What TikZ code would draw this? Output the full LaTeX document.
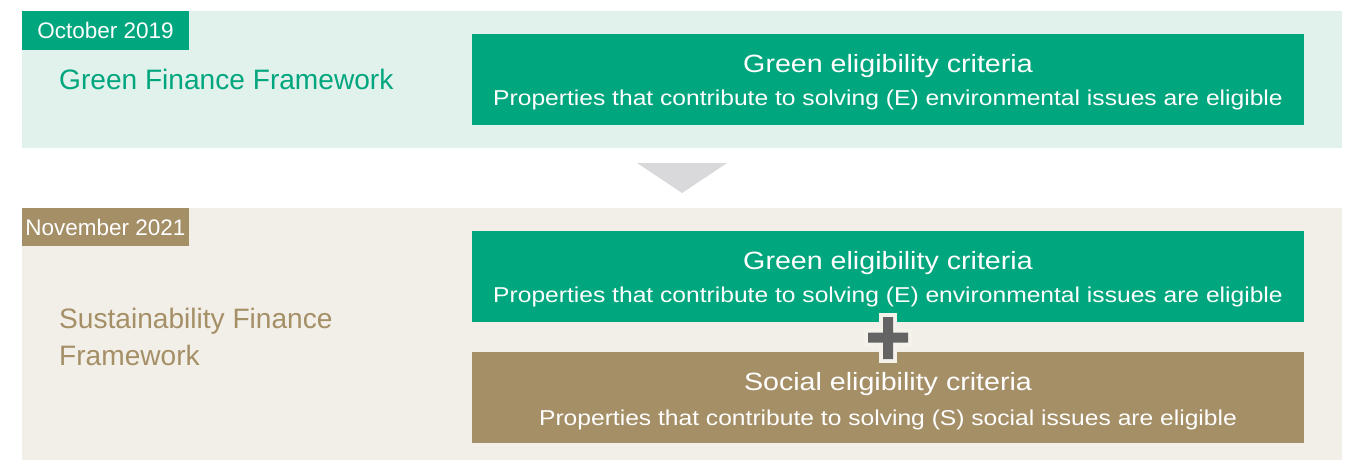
\documentclass[tikz,border=0pt]{standalone}
\usepackage{fontspec}
\setmainfont{Liberation Sans}
\newfontfamily\boxfont[FakeStretch=1.145]{Liberation Sans}

\definecolor{brandgreen}{HTML}{00A67D}
\definecolor{greenbg}{HTML}{E1F1EC}
\definecolor{beigebg}{HTML}{F2EFE8}
\definecolor{tan}{HTML}{A58F66}
\definecolor{arrowgrey}{HTML}{D9D9DB}
\definecolor{plusgrey}{HTML}{646464}
\definecolor{plusedge}{HTML}{F5F2EC}

\begin{document}
\begin{tikzpicture}[x=1pt,y=-1pt,
  panel/.style={draw=none, inner sep=0pt, minimum width=1320pt},
  datetag/.style={fill=#1, inner sep=0pt, minimum width=167pt, text=white,
    font=\fontsize{22.5}{27}\selectfont},
  critbox/.style={fill=#1, inner sep=0pt, minimum width=832pt, minimum height=91pt},
  crittitle/.style={text=white, inner sep=0pt, anchor=base,
    font=\boxfont\fontsize{25}{30}\selectfont},
  critsub/.style={text=white, inner sep=0pt, anchor=base,
    font=\boxfont\fontsize{21.5}{26}\selectfont},
  framelabel/.style={text=#1, inner sep=0pt, anchor=base west, align=left,
    font=\fontsize{28.1}{36.7}\selectfont}]
\useasboundingbox (0,0) rectangle (1347,460);
\fill[white] (0,0) rectangle (1347,460);

% upper band: October 2019
\node[panel, fill=greenbg, minimum height=137pt] (band1) at (682,79.5) {};
\node[datetag=brandgreen, minimum height=39pt] (tag1) at (105.5,30.5) {October 2019};
\node[framelabel=brandgreen] (name1) at (59,89) {Green Finance Framework};
\node[critbox=brandgreen] (green1) at (888,79.5) {};
\node[crittitle] (green1t) at ([yshift=-38.7pt]green1.north) {Green eligibility criteria};
\node[critsub] (green1s) at ([yshift=-72pt]green1.north)
  {Properties that contribute to solving (E) environmental issues are eligible};

% transition arrow
\fill[arrowgrey] (637,163) -- (727,163) -- (682,193) -- cycle;

% lower band: November 2021
\node[panel, fill=beigebg, minimum height=252pt] (band2) at (682,334) {};
\node[datetag=tan, minimum height=38pt] (tag2) at (105.5,227) {November 2021};
\node[framelabel=tan] (name2) at (59,365) {Sustainability Finance\\Framework};
\node[critbox=brandgreen] (green2) at (888,276.5) {};
\node[crittitle] (green2t) at ([yshift=-38.7pt]green2.north) {Green eligibility criteria};
\node[critsub] (green2s) at ([yshift=-72pt]green2.north)
  {Properties that contribute to solving (E) environmental issues are eligible};
\node[critbox=tan] (social) at (888,397.5) {};
\node[crittitle] (socialt) at ([yshift=-39pt]social.north) {Social eligibility criteria};
\node[critsub] (socials) at ([yshift=-74pt]social.north)
  {Properties that contribute to solving (S) social issues are eligible};

% plus sign joining the two criteria
\def\plusshape{(883,317) -- (893,317) -- (893,332.5) -- (908,332.5) -- (908,342.5)
  -- (893,342.5) -- (893,359) -- (883,359) -- (883,342.5) -- (868,342.5)
  -- (868,332.5) -- (883,332.5) -- cycle}
\filldraw[plusedge, line width=8pt, miter limit=10] \plusshape;
\fill[plusgrey] \plusshape;
\end{tikzpicture}
\end{document}
